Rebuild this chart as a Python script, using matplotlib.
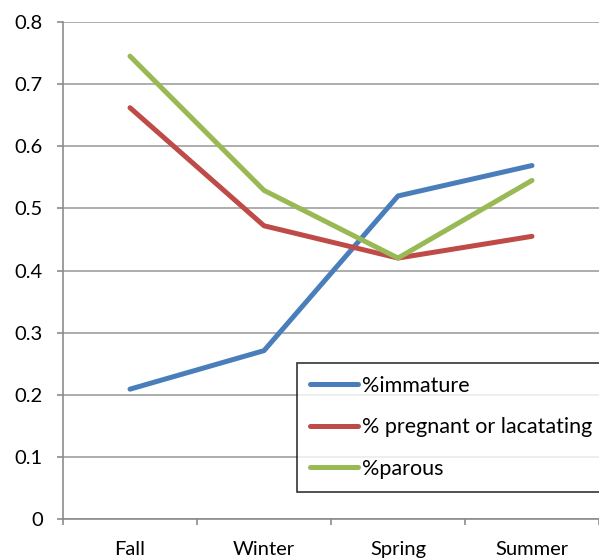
import matplotlib
matplotlib.use('Agg')
import matplotlib.pyplot as plt

# Seasonal proportions
seasons = ['Fall', 'Winter', 'Spring', 'Summer']
immature = [0.209, 0.271, 0.520, 0.569]
pregnant_lactating = [0.662, 0.472, 0.420, 0.455]
parous = [0.745, 0.529, 0.420, 0.545]

plt.rcParams['font.family'] = ['Lato', 'DejaVu Sans']

fig = plt.figure(figsize=(5.99, 5.59), dpi=100)
ax = fig.add_axes([63 / 599, 1 - 519 / 559, 1 - 63 / 599, (519 - 22) / 559])

x = list(range(1, len(seasons) + 1))
ax.plot(x, immature, color='#4a7ebb', lw=3.6, label='%immature', solid_capstyle='round')
ax.plot(x, pregnant_lactating, color='#be4b48', lw=3.6, label='% pregnant or lacatating',
        solid_capstyle='round')
ax.plot(x, parous, color='#98b954', lw=3.6, label='%parous', solid_capstyle='round')

ax.set_xlim(0.5, len(seasons) + 0.5)
ax.set_ylim(0, 0.8)
ax.set_yticks([i / 10 for i in range(9)])
ax.set_yticklabels(['0' if i == 0 else '0.%d' % i for i in range(9)])
ax.set_xticks(x)
ax.set_xticklabels(seasons)
ax.set_xticks([i + 0.5 for i in range(len(seasons) + 1)], minor=True)

ax.grid(axis='y', color='#a0a0a0', lw=1.2)
ax.set_axisbelow(True)

for side in ['top', 'right']:
    ax.spines[side].set_visible(False)
for side in ['left', 'bottom']:
    ax.spines[side].set_color('#8c8c8c')
    ax.spines[side].set_linewidth(1.2)

ax.tick_params(axis='y', length=4.5, width=1.2, color='#8c8c8c', pad=10, labelsize=14.5)
ax.tick_params(axis='x', which='major', length=0, pad=16, labelsize=14.5)
ax.tick_params(axis='x', which='minor', length=4.5, width=1.2, color='#8c8c8c')

leg = fig.legend(loc='upper left', bbox_to_anchor=(297 / 599, 1 - 363 / 559, 0.6, 0.0),
                 mode='expand', fontsize=15.5, frameon=True, fancybox=False,
                 edgecolor='black', handlelength=2.25, handletextpad=0.15,
                 labelspacing=1.0, borderpad=0.6, borderaxespad=0)
leg.get_frame().set_linewidth(1.2)

plt.savefig('out.png', dpi=100)
